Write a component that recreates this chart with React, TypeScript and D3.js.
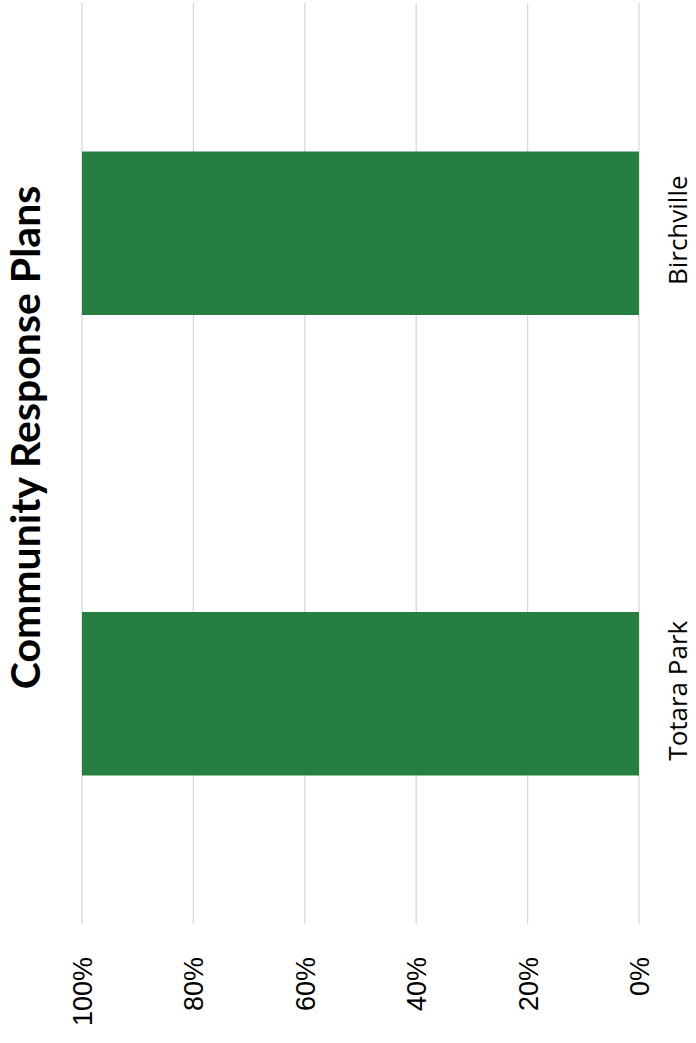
import React from "react";
import * as d3 from "d3";

const categories = ["Totara Park", "Birchville"];
const values = [1.0, 1.0];
const tickValues = [0, 0.2, 0.4, 0.6, 0.8, 1.0];
const title = "Community Response Plans";
const barColor = "#267f41";

export default function App() {
  const W = 696;
  const H = 1043;
  // rotated column chart: value axis runs right (0%) to left (100%)
  const x = d3.scaleLinear().domain([0, 1]).range([639, 82]);
  const y = d3
    .scaleBand<string>()
    .domain(categories)
    .range([924, 3])
    .paddingInner(0.645)
    .paddingOuter(0.3225);
  const fmt = d3.format(".0%");
  return (
    <svg
      width={W}
      height={H}
      style={{ position: "absolute", left: 0, top: 0, background: "#fff" }}
    >
      <rect x={0} y={0} width={W} height={H} fill="#fff" />
      {tickValues.map((t) => (
        <line
          key={"g" + t}
          x1={x(t)}
          x2={x(t)}
          y1={3}
          y2={924}
          stroke="#d9d9d9"
          strokeWidth={1.3}
        />
      ))}
      {categories.map((c, i) => (
        <rect
          key={c}
          x={x(values[i])}
          y={y(c)}
          width={x(0) - x(values[i])}
          height={y.bandwidth()}
          fill={barColor}
        />
      ))}
      {tickValues.map((t) => (
        <text
          key={"t" + t}
          transform={`translate(${x(t) + 10},957) rotate(-90)`}
          textAnchor="end"
          fontFamily="Liberation Sans, Arial, sans-serif"
          fontSize={27}
          fill="#000"
        >
          {fmt(t)}
        </text>
      ))}
      {categories.map((c) => (
        <text
          key={"c" + c}
          transform={`translate(687,${(y(c) as number) + y.bandwidth() / 2 - 3}) rotate(-90)`}
          textAnchor="middle"
          fontFamily="Open Sans, sans-serif"
          fontSize={26}
          fill="#000"
        >
          {c}
        </text>
      ))}
      <text
        transform={`translate(40,${(185 + 690) / 2}) rotate(-90)`}
        textAnchor="middle"
        fontFamily="Lato, sans-serif"
        fontWeight="bold"
        fontSize={41}
        fill="#000"
      >
        {title}
      </text>
    </svg>
  );
}
